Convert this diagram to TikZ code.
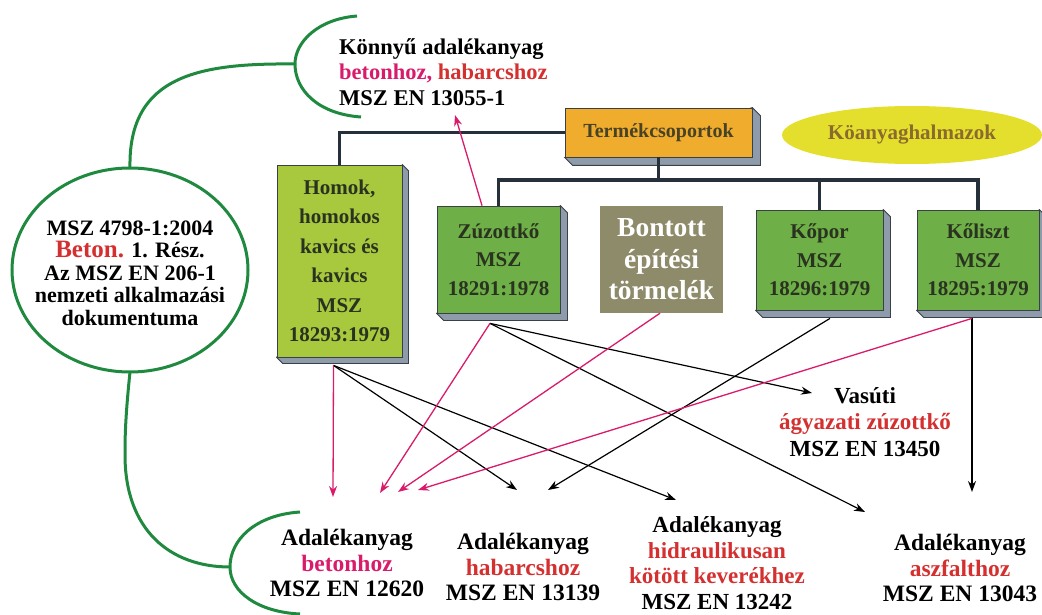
\documentclass[tikz,border=0pt]{standalone}
\usepackage{fontspec}
\setmainfont{Liberation Serif}
\usetikzlibrary{shapes.geometric,arrows.meta,calc}
\pgfdeclarelayer{bg}
\pgfsetlayers{bg,main}
\definecolor{greenline}{HTML}{1F8A3F}
\definecolor{pinkc}{HTML}{D81B6A}
\definecolor{redc}{HTML}{D3302F}
\definecolor{limec}{HTML}{A8C83E}
\definecolor{greenc}{HTML}{6EAF47}
\definecolor{khaki}{HTML}{8E8B6B}
\definecolor{orangec}{HTML}{F0AC2C}
\definecolor{yellowc}{HTML}{E4DF2C}
\definecolor{shadowc}{HTML}{8D9BAA}
\definecolor{boxedge}{HTML}{3A4048}
\definecolor{boxtext}{HTML}{2A3320}
\definecolor{browntext}{HTML}{8B6A2E}
\definecolor{treec}{HTML}{26303A}
\newcommand{\fsz}[2]{\fontsize{#1}{#2}\selectfont\bfseries}
\newcommand{\extrude}[2]{%
  \begin{pgfonlayer}{bg}
  \filldraw[fill=shadowc, draw=boxedge, line width=0.8pt]
    (#1.north east) -- ++(#2,#2) -- ($(#1.south east)+(#2,#2)$)
    -- ($(#1.south west)+(#2,#2)$) -- (#1.south west) -- cycle;
  \end{pgfonlayer}}
\tikzset{
  boxbase/.style={draw=boxedge, line width=0.8pt, inner sep=0pt, align=center, text=boxtext},
  grbox/.style={boxbase, fill=greenc, font=\fsz{21}{28.5}},
  greencurve/.style={draw=greenline, line width=3pt},
  tree/.style={draw=treec, line width=3.5pt},
  blk/.style={draw=black, line width=1.2pt, -{Stealth[length=11pt,width=8pt]}},
  pnk/.style={draw=pinkc, line width=1.3pt, -{Stealth[length=11pt,width=8pt]}},
  label/.style={align=center, inner sep=0pt, text=black, font=\fsz{23.5}{25.5}}
}
\begin{document}
\begin{tikzpicture}[x=1pt,y=-1pt]
\useasboundingbox (0,0) rectangle (1042,615);

% ---- product group boxes ----
\node[boxbase, fill=orangec, minimum width=187pt, minimum height=49pt, text=boxtext!80!brown, font=\fsz{20}{22}] (term) at (658.5,132.5) {Termékcsoportok};
\extrude{term}{8}
\node[ellipse, fill=yellowc, minimum width=260pt, minimum height=58pt, inner sep=0pt, text=browntext, font=\fsz{21}{22}] (koa) at (912,135) {Köanyaghalmazok};

\node[boxbase, fill=limec, minimum width=125pt, minimum height=192pt, font=\fsz{21}{29.5}] (homok) at (339.5,261) {Homok,\\homokos\\kavics és\\kavics\\MSZ\\18293:1979};
\extrude{homok}{6}
\node[grbox, minimum width=123pt, minimum height=107pt] (zuz) at (498.5,259.5) {Zúzottkő\\MSZ\\18291:1978};
\extrude{zuz}{7}
\node[fill=khaki, minimum width=123pt, minimum height=107pt, inner sep=0pt, align=center, text=white, font=\fsz{27.5}{31.5}] (bont) at (661.5,259.5) {Bontott\\építési\\törmelék};
\node[grbox, minimum width=127pt, minimum height=100pt] (kopor) at (819.5,260) {Kőpor\\MSZ\\18296:1979};
\extrude{kopor}{7}
\node[grbox, minimum width=122pt, minimum height=100pt] (kolis) at (978,260) {Kőliszt\\MSZ\\18295:1979};
\extrude{kolis}{7}

% ---- tree connectors ----
\coordinate (bus) at (658.5,180);
\draw[tree] (term.west) -| (homok.north);
\draw[tree] (term.south) -- (bus);
\draw[tree] (zuz.north) |- (bus) -| (kolis.north);
\draw[tree] (kopor.north) -- (kopor.north |- bus);

% ---- standard ellipse and green brackets ----
\draw[greencurve] (130,270) ellipse [x radius=118, y radius=102];
\coordinate (stdtop) at (130,168);
\coordinate (stdbot) at (130,372);
\node[align=center, inner sep=0pt, font=\fsz{22}{22.5}] (std) at (130,273)
  {MSZ 4798-1:2004\\{\color{redc}\fontsize{25}{22.5}\selectfont Beton.} 1. Rész.\\Az MSZ EN 206-1\\nemzeti alkalmazási\\dokumentuma};
\coordinate (b1top) at (357,16);
\coordinate (b1mid) at (295,64);
\coordinate (b1bot) at (361,117);
\draw[greencurve] (b1top) .. controls (318,19) and (295,42) .. (b1mid) .. controls (295,90) and (318,114) .. (b1bot);
\draw[greencurve] (stdtop) .. controls (128,75) and (200,63) .. (b1mid);
\coordinate (b2top) at (300,512);
\coordinate (b2mid) at (230,567);
\coordinate (b2bot) at (300,614);
\draw[greencurve] (b2top) .. controls (255,515) and (230,540) .. (b2mid) .. controls (230,592) and (258,612) .. (b2bot);
\draw[greencurve] (stdbot) .. controls (125,420) and (125,440) .. (125,455) .. controls (125,530) and (170,567) .. (b2mid);

% ---- text blocks ----
\node[label, align=left, anchor=west, font=\fsz{22.5}{25.5}] (konnyu) at (339,72)
  {Könnyű adalékanyag\\{\color{pinkc}betonhoz,} {\color{redc}habarcshoz}\\MSZ EN 13055-1};
\node[label] (beton) at (347,563) {Adalékanyag\\{\color{pinkc}betonhoz}\\MSZ EN 12620};
\node[label] (habar) at (523,567) {Adalékanyag\\{\color{redc}habarcshoz}\\MSZ EN 13139};
\node[label, font=\fsz{23}{25.5}] (hidr) at (717,563) {Adalékanyag\\{\color{redc}hidraulikusan}\\{\color{redc}kötött keverékhez}\\MSZ EN 13242};
\node[label] (aszf) at (960,568) {Adalékanyag\\{\color{redc}aszfalthoz}\\MSZ EN 13043};
\node[label, font=\fsz{23}{26.5}] (vasut) at (865,422) {Vasúti\\{\color{redc}ágyazati zúzottkő}\\MSZ EN 13450};

% ---- arrow targets ----
\coordinate (tBet1) at (333,497);
\coordinate (tBet2) at (380,493);
\coordinate (tBet3) at (398,492);
\coordinate (tBet4) at (418,490);
\coordinate (tHab1) at (517,490);
\coordinate (tHab2) at (548,490);
\coordinate (tHid) at (676,500);
\coordinate (tAsz1) at (865,512);
\coordinate (tAsz2) at (972,492);
\coordinate (tVas) at (812,393);
\coordinate (tKon) at (455,115);

% ---- arrows ----
\draw[blk] ([shift={(-6,8)}]homok.south) -- (tHab1);
\draw[blk] ([shift={(-6,8)}]homok.south) -- (tHid);
\draw[blk] ([shift={(-8.5,10)}]zuz.south) -- (tVas);
\draw[blk] ([shift={(-8.5,10)}]zuz.south) -- (tAsz1);
\draw[blk] ([shift={(10.5,8)}]kopor.south) -- (tHab2);
\draw[blk] ([shift={(-6,8)}]kolis.south) -- (tAsz2);
\draw[pnk] ([shift={(-6,8)}]homok.south) -- (tBet1);
\draw[pnk] ([shift={(-8.5,10)}]zuz.south) -- (tBet2);
\draw[pnk] ([shift={(-1.5,0)}]bont.south) -- (tBet3);
\draw[pnk] ([shift={(-6,8)}]kolis.south) -- (tBet4);
\draw[pnk] ([shift={(-16.5,0)}]zuz.north) -- (tKon);
\end{tikzpicture}
\end{document}
